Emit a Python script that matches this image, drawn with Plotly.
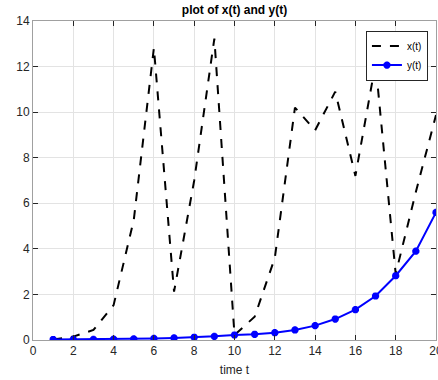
import plotly.graph_objects as go

t = list(range(1, 21))
x_vals = [0.02, 0.15, 0.44, 1.53, 5.26, 12.82, 2.12, 7.0, 13.23, 0.22,
          1.02, 3.6, 10.2, 9.2, 10.9, 7.2, 12.14, 2.9, 6.5, 9.87]
y_vals = [0.02, 0.025, 0.03, 0.04, 0.05, 0.07, 0.09, 0.12, 0.16, 0.22,
          0.25, 0.32, 0.44, 0.63, 0.92, 1.33, 1.93, 2.82, 3.9, 5.6]
x_ticks = list(range(0, 21, 2))
y_ticks = list(range(0, 15, 2))

FONT = "Liberation Sans, Arial"
W, H = 438, 380
ML, MR, MT, MB = 33, 2, 21, 40

fig = go.Figure()
fig.add_trace(go.Scatter(x=t, y=x_vals, mode="lines", name="x(t)",
                         line=dict(color="black", width=2, dash="dash")))
fig.add_trace(go.Scatter(x=t, y=y_vals, mode="lines+markers", name="y(t)",
                         line=dict(color="#0000ff", width=2),
                         marker=dict(symbol="asterisk-open", size=6, color="#0000ff",
                                     line=dict(color="#0000ff", width=2.5))))

axis_common = dict(showgrid=True, gridcolor="#e3e3e3", gridwidth=1,
                   showline=True, linecolor="#a0a0a0", linewidth=1, mirror="ticks",
                   ticks="inside", ticklen=5, tickcolor="#262626",
                   tickfont=dict(family=FONT, size=12, color="#262626"),
                   zeroline=False, automargin=False)

fig.update_layout(
    width=W, height=H,
    margin=dict(l=ML, r=MR, t=MT, b=MB),
    paper_bgcolor="white", plot_bgcolor="white",
    title=dict(text="<b>plot of x(t) and y(t)</b>", x=0.5, xanchor="center", xref="paper",
               y=1 - 10/H, yanchor="middle",
               font=dict(family=FONT, size=12, color="black")),
    xaxis=dict(range=[0, 20], tickvals=x_ticks, ticklabeloverflow="allow",
               title=dict(text="time t", standoff=8,
                          font=dict(family=FONT, size=12, color="#262626")),
               **axis_common),
    yaxis=dict(range=[0, 14], tickvals=y_ticks, **axis_common),
    legend=dict(x=0.98, y=0.97, xanchor="right", yanchor="top",
                bgcolor="white", bordercolor="#262626", borderwidth=1,
                font=dict(family=FONT, size=10, color="black"),
                tracegroupgap=0, itemwidth=30),
    showlegend=True,
)

fig.write_html("out.html", config={"displayModeBar": False},
               post_script="document.body.style.margin='0';document.body.style.padding='0';")
